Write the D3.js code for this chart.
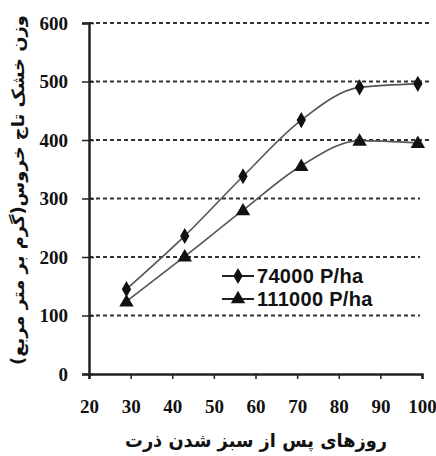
<!DOCTYPE html>
<html><head><meta charset="utf-8">
<script src="https://cdn.jsdelivr.net/npm/d3@7"></script>
<style>body{margin:0;background:#fff}</style>
</head><body>
<svg id="c" width="436" height="456"></svg>
<script>
const days = [29, 43, 57, 71, 85, 99];
const s74000 = [145, 236, 338, 434, 490, 496];
const s111000 = [124, 201, 280, 356, 399, 395];
const seriesNames = ["74000 P/ha", "111000 P/ha"];
const xTicks = [20, 30, 40, 50, 60, 70, 80, 90, 100];
const yTicks = [0, 100, 200, 300, 400, 500, 600];
const yTitle = "وزن خشک تاج خروس(گرم بر متر مربع)";
const xTitle = "روزهای پس از سبز شدن ذرت";

const svg = d3.select("#c");
const x = d3.scaleLinear().domain([20, 100]).range([89, 422]);
const y = d3.scaleLinear().domain([0, 600]).range([374, 23]);
const col = "#222";

// grid
svg.append("g").selectAll("line").data(yTicks.filter(d => d > 0)).join("line")
  .attr("x1", x(20)).attr("x2", d => d >= 400 ? 432 : 420)
  .attr("y1", d => y(d)).attr("y2", d => y(d))
  .attr("stroke", "#333").attr("stroke-width", 2).attr("stroke-dasharray", "4,3");

// axes
const ya = svg.append("g").attr("transform", `translate(${x(20)},0)`)
  .call(d3.axisLeft(y).tickValues(yTicks).tickSize(7).tickPadding(14));
ya.selectAll(".tick line").attr("x2", -7).attr("x1", 5);
const xa = svg.append("g").attr("transform", `translate(0,${y(0)})`)
  .call(d3.axisBottom(x).tickValues(xTicks).tickSize(5).tickPadding(21));
[ya, xa].forEach(a => {
  a.select(".domain").attr("stroke", col).attr("stroke-width", 2.5);
  a.selectAll(".tick line").attr("stroke", col).attr("stroke-width", 1.5);
  a.selectAll("text").attr("font-family", "Liberation Serif").attr("font-weight", "bold")
    .attr("font-size", 19).attr("fill", "#111");
});

// lines
const line = d3.line().x((d, i) => x(days[i])).y(d => y(d)).curve(d3.curveMonotoneX);
[s74000, s111000].forEach(s => {
  svg.append("path").datum(s).attr("d", line).attr("fill", "none")
    .attr("stroke", "#555").attr("stroke-width", 1.6);
});
const dia = d3.symbol().type(d3.symbolDiamond).size(75);
const tri = d3.symbol().type(d3.symbolTriangle).size(90);
svg.append("g").selectAll("path").data(s74000).join("path")
  .attr("d", dia).attr("transform", (d, i) => `translate(${x(days[i])},${y(d)})`).attr("fill", "#111");
svg.append("g").selectAll("path").data(s111000).join("path")
  .attr("d", tri).attr("transform", (d, i) => `translate(${x(days[i])},${y(d) + 1})`).attr("fill", "#111");

// legend
const lg = svg.append("g");
const ly = [276, 299];
seriesNames.forEach((n, i) => {
  lg.append("line").attr("x1", 222).attr("x2", 254).attr("y1", ly[i]).attr("y2", ly[i])
    .attr("stroke", "#222").attr("stroke-width", 2);
  lg.append("path").attr("d", i === 0 ? dia : tri)
    .attr("transform", `translate(238,${ly[i]})`).attr("fill", "#111");
  lg.append("text").attr("x", 257).attr("y", ly[i] + 7).text(n)
    .attr("font-family", "Liberation Sans").attr("font-weight", "bold").attr("font-size", 20)
    .attr("letter-spacing", 0.3).attr("fill", "#111");
});

// titles
svg.append("text").attr("transform", "translate(24,190) rotate(-90)")
  .attr("text-anchor", "middle").attr("direction", "rtl")
  .attr("font-family", "DejaVu Sans").attr("font-weight", "bold").attr("font-size", 17)
  .attr("textLength", 350).attr("lengthAdjust", "spacingAndGlyphs")
  .attr("fill", "#111").text(yTitle);
svg.append("text").attr("x", 256).attr("y", 447)
  .attr("text-anchor", "middle").attr("direction", "rtl")
  .attr("font-family", "DejaVu Sans").attr("font-weight", "bold").attr("font-size", 19)
  .attr("textLength", 262).attr("lengthAdjust", "spacingAndGlyphs")
  .attr("fill", "#111").text(xTitle);
</script>
</body></html>
